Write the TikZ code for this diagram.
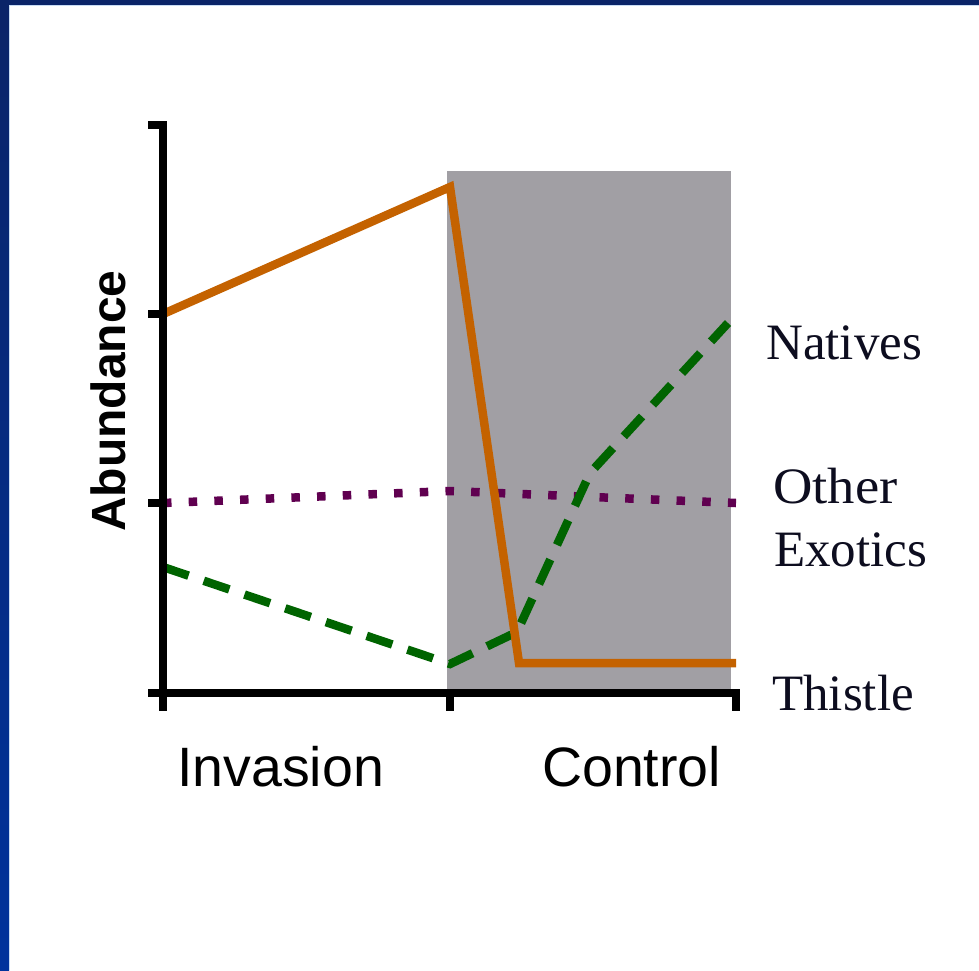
\documentclass[tikz,border=0pt]{standalone}
\usepackage{fontspec}
\setmainfont{Liberation Serif}
\setsansfont{Liberation Sans}
\definecolor{navy}{HTML}{0A2468}
\definecolor{bluebot}{HTML}{00339C}
\definecolor{edgeblue}{HTML}{C8DCF4}
\definecolor{orangeline}{HTML}{C46200}
\definecolor{greenline}{HTML}{006400}
\definecolor{purpleline}{HTML}{600050}
\definecolor{shadebox}{HTML}{A19FA4}
\definecolor{labelink}{HTML}{0D0D1F}
\tikzset{
  axisline/.style={line width=8.5pt, black, line cap=butt, line join=miter},
  thistleline/.style={line width=8.5pt, orangeline, line join=miter},
  nativeline/.style={line width=8.5pt, greenline, dash pattern=on 27pt off 16pt},
  otherline/.style={line width=8.5pt, purpleline, dash pattern=on 8.5pt off 17.2pt},
  axlabel/.style={inner sep=0pt, font=\sffamily\fontsize{55.5}{55.5}\selectfont, black},
  serieslabel/.style={inner sep=0pt, font=\fontsize{51}{51}\selectfont, labelink},
}
\begin{document}
\begin{tikzpicture}[x=1pt,y=-1pt]
\useasboundingbox (0,0) rectangle (979,970);
\fill[white] (0,0) rectangle (979,970);
% slide frame
\shade[top color=navy,bottom color=bluebot] (0,0) rectangle (9,970);
\fill[navy] (0,0) rectangle (979,4.5);
\fill[edgeblue] (9,4.5) rectangle (10,970);
\fill[edgeblue] (9,4.5) rectangle (979,5.5);
% control period shading
\fill[shadebox] (447,171) rectangle (731,690);
% data points
\coordinate (t1) at (163,314);
\coordinate (t2) at (450,187);
\coordinate (t3) at (519,663);
\coordinate (t4) at (736,663);
\coordinate (n1) at (163,567);
\coordinate (n2) at (450,664);
\coordinate (n3) at (517,632);
\coordinate (n4) at (590,473);
\coordinate (n5) at (728,323);
\coordinate (o1) at (163,503);
\coordinate (o2) at (450,491);
\coordinate (o3) at (736,503);
% series
\draw[otherline] (o1) -- (o2) -- (o3);
\draw[nativeline] (n1) -- (n2) -- (n3) -- (n4) -- (n5);
\draw[thistleline] (t1) -- (t2) -- (t3) -- (t4);
% axes
\coordinate (ytop) at (163,121);
\coordinate (origin) at (163,693);
\coordinate (xend) at (736,693);
\draw[axisline] (148,125) -- (167,125);
\draw[axisline] (ytop) -- (163,697);
\draw[axisline] (148,314) -- (163,314);
\draw[axisline] (148,503) -- (163,503);
\draw[axisline] (148,693) -- (163,693);
\draw[axisline] (159,693) -- (xend) -- (736,711);
\draw[axisline] (163,693) -- (163,711);
\draw[axisline] (450,693) -- (450,711);
% labels
\node[inner sep=0pt, font=\sffamily\bfseries\fontsize{48}{48}\selectfont, rotate=90] (ylab) at (108.5,401) {Abundance};
\node[axlabel, anchor=base west] (inv) at (177,786) {Invasion};
\node[axlabel, anchor=base west] (ctl) at (542,786) {Control};
\node[serieslabel, anchor=base west] (nat) at (766,359) {Natives};
\node[serieslabel, anchor=base west, xscale=1.07] (oth) at (773,503) {Other};
\node[serieslabel, anchor=base west] (exo) at (774,566) {Exotics};
\node[serieslabel, anchor=base west] (thi) at (772,710) {Thistle};
\end{tikzpicture}
\end{document}
